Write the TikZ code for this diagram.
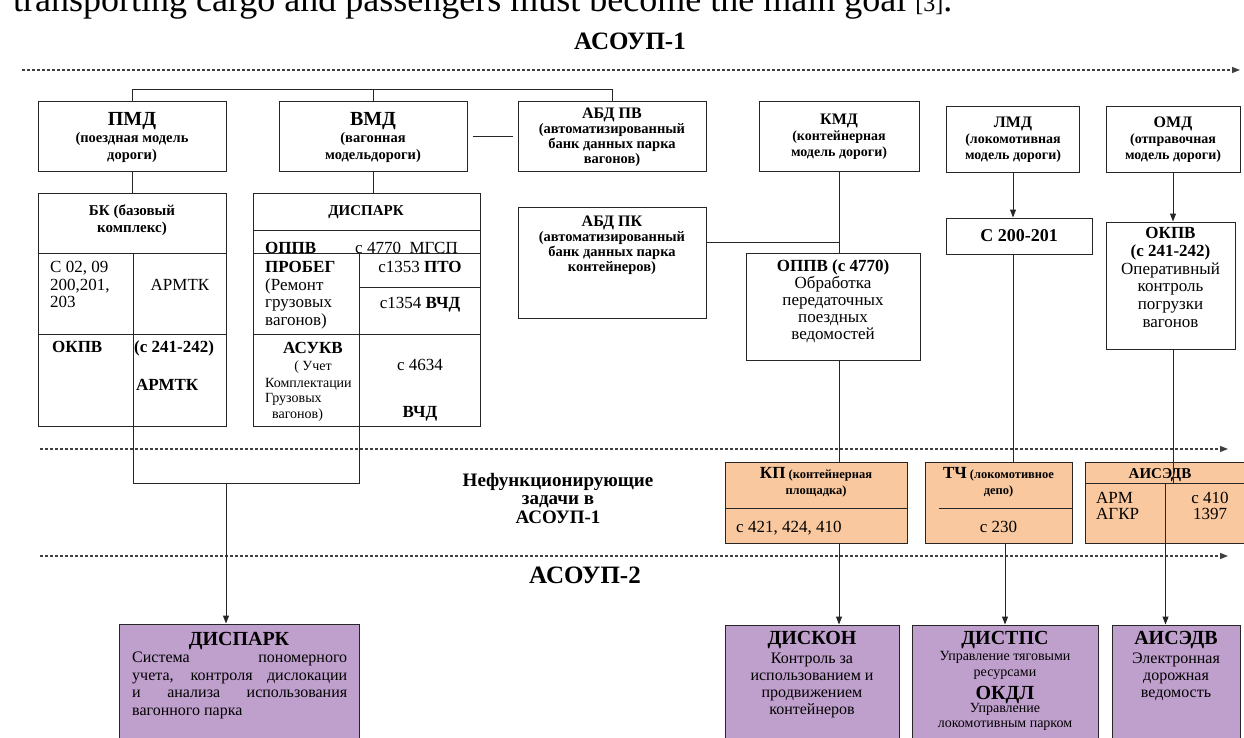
\documentclass[tikz,border=0pt]{standalone}
\usepackage{fontspec}
\setmainfont{Liberation Serif}
\usetikzlibrary{arrows.meta}
\definecolor{oldfill}{HTML}{F9C89E}
\definecolor{newfill}{HTML}{BF9FCC}
\newcommand\fsz[2]{\fontsize{#1}{#2}\selectfont}

\begin{document}
\begin{tikzpicture}[x=1pt,y=-1pt,
  box/.style={draw=black!85, line width=1pt, fill=white, inner sep=0pt, align=center},
  old/.style={box, fill=oldfill},
  new/.style={box, fill=newfill},
  ln/.style={draw=black!85, line width=1pt},
  arr/.style={ln, -{Triangle[length=8pt,width=6pt]}},
  sep/.style={line width=1.3pt, black!75, dash pattern=on 3pt off 2pt, -{Triangle[length=8pt,width=6pt]}},
  lt/.style={inner sep=0pt, anchor=base west},
  ct/.style={inner sep=0pt, anchor=base},
  blk/.style={inner sep=0pt, anchor=north, align=center}]
\useasboundingbox (0,0) rectangle (1244,738);
\clip (0,0) rectangle (1244,738);

\node[lt] (goal) at (13,12) {\fsz{36}{40}transporting cargo and passengers must become the main goal {\fsz{24}{26}[3]}.};

\node[ct] (asoup1) at (630,50) {\fsz{25}{28}\bfseries АСОУП-1};
\draw[sep] (22,70) -- (1240,70);
\draw[sep] (40,449) -- (1228,449);
\draw[sep] (40,556) -- (1228,556);
\node[blk, font=\fsz{19}{18.5}\bfseries] (nf) at (558,473) {Нефункционирующие\\задачи в\\АСОУП-1};
\node[ct] (asoup2) at (585,583) {\fsz{25}{28}\bfseries АСОУП-2};

\node[box, minimum width=188pt, minimum height=70pt, font=\fsz{14.5}{17}\bfseries] (pmd) at (132,137) {{\fsz{20}{20}ПМД}\\(поездная модель\\дороги)};
\node[box, minimum width=188pt, minimum height=70pt, font=\fsz{14.5}{17}\bfseries] (vmd) at (373,137) {{\fsz{20}{20}ВМД}\\(вагонная\\модельдороги)};
\node[box, minimum width=188pt, minimum height=70pt, font=\fsz{14.5}{15}\bfseries] (abdpv) at (612,137) {{\fsz{16}{16}АБД ПВ}\\(автоматизированный\\банк данных парка\\вагонов)};
\node[box, minimum width=160pt, minimum height=70pt, font=\fsz{14}{16}\bfseries] (kmd) at (839,137) {{\fsz{16}{16}КМД}\\(контейнерная\\модель дороги)};
\node[box, minimum width=133pt, minimum height=66pt, font=\fsz{14}{16}\bfseries] (lmd) at (1013,140) {{\fsz{16}{16}ЛМД}\\(локомотивная\\модель дороги)};
\node[box, minimum width=134pt, minimum height=66pt, font=\fsz{14}{16}\bfseries] (omd) at (1173,140) {{\fsz{16}{16}ОМД}\\(отправочная\\модель дороги)};

\node[box, minimum width=188pt, minimum height=232pt] (bk) at (132,310) {};
\node[box, minimum width=227pt, minimum height=232pt] (disp) at (366.5,310) {};
\node[box, minimum width=188pt, minimum height=111pt] (abdpk) at (612,262.5) {};
\node[box, minimum width=174pt, minimum height=107pt] (oppv) at (833,306.5) {};
\node[box, minimum width=146pt, minimum height=36pt, font=\fsz{18}{18}\bfseries] (c200) at (1019,236) {С 200-201};
\node[box, minimum width=129pt, minimum height=127pt] (okpv) at (1170.5,285.5) {};

\coordinate (bus) at (0,90);
\draw[ln] (pmd.north) -- (pmd.north |- bus) -- (abdpv.north |- bus) -- (abdpv.north);
\draw[ln] (vmd.north |- bus) -- (vmd.north);
\draw[ln, shorten <=5pt, shorten >=5pt] (vmd) -- (abdpv);
\draw[ln] (pmd.south) -- (bk.north);
\draw[ln] (vmd.south) -- (vmd.south |- disp.north);
\draw[ln] (kmd.south) -- (kmd.south |- oppv.north);
\coordinate (kjy) at (0,242);
\draw[ln] (abdpk.east |- kjy) -- (kmd.south |- kjy);
\draw[arr] (lmd.south) -- (lmd.south |- c200.north);
\draw[arr] (omd.south) -- (omd.south |- okpv.north);

\node[ct, font=\fsz{15}{15}\bfseries] (bkh1) at (132,215) {БК (базовый};
\node[ct, font=\fsz{15}{15}\bfseries] (bkh2) at (132,233) {комплекс)};
\draw[ln] (38,253) -- (226,253);
\draw[ln] (38,334) -- (226,334);
\node[lt, font=\fsz{17}{18}] (bkc) at (50,272) {С 02, 09};
\node[lt, font=\fsz{17}{18}] (bkc2) at (50,290) {200,201,};
\node[lt, font=\fsz{17}{18}] (bkc3) at (50,307) {203};
\node[ct, font=\fsz{17}{18}] (bkarm) at (180,290) {АРМТК};
\node[lt, font=\fsz{17}{18}\bfseries] (bkok) at (52,352) {ОКПВ};
\node[lt, font=\fsz{17}{18}\bfseries] (bkokc) at (134,352) {(с 241-242)};
\node[lt, font=\fsz{17}{18}\bfseries] (bkarm2) at (136,390) {АРМТК};

\node[ct, font=\fsz{15}{15}\bfseries] (disph) at (366,215) {ДИСПАРК};
\draw[ln] (253,230) -- (480,230);
\node[lt, font=\fsz{17}{18}\bfseries] (dop) at (265,253) {ОППВ};
\node[lt, font=\fsz{17}{18}] (dopc) at (355,253) {с 4770\enspace МГСП};
\draw[ln] (253,253) -- (480,253);
\draw[ln] (359,287) -- (480,287);
\draw[ln] (253,334) -- (480,334);
\node[lt, font=\fsz{17}{18}\bfseries] (dpr) at (265,272) {ПРОБЕГ};
\node[lt, font=\fsz{17}{18}] (dpr2) at (265,290) {(Ремонт};
\node[lt, font=\fsz{17}{18}] (dpr3) at (265,307) {грузовых};
\node[lt, font=\fsz{17}{18}] (dpr4) at (265,325) {вагонов)};
\node[ct, font=\fsz{17}{18}] (dpto) at (420,272) {с1353 \textbf{ПТО}};
\node[ct, font=\fsz{17}{18}] (dvchd) at (420,308) {с1354 \textbf{ВЧД}};
\node[ct, font=\fsz{17}{18}\bfseries] (das) at (313,353) {АСУКВ};
\node[ct, font=\fsz{14}{15}] (das2) at (313,370) {( Учет};
\node[lt, font=\fsz{14}{15}] (das3) at (265,387) {Комплектации};
\node[lt, font=\fsz{14}{15}] (das4) at (265,402) {Грузовых};
\node[lt, font=\fsz{14}{15}] (das5) at (272,418) {вагонов)};
\node[ct, font=\fsz{17}{18}] (dc46) at (420,370) {с 4634};
\node[ct, font=\fsz{17}{18}\bfseries] (dvchd2) at (420,417) {ВЧД};

\node[blk, font=\fsz{14.5}{15}\bfseries] (abdpkt) at (612,216) {{\fsz{16}{16}АБД ПК}\\(автоматизированный\\банк данных парка\\контейнеров)};
\node[blk, font=\fsz{17}{17}] (oppvt) at (833,260) {\textbf{ОППВ (с 4770)}\\Обработка\\передаточных\\поездных\\ведомостей};
\node[blk, font=\fsz{17}{17.8}] (okpvt) at (1170.5,227) {\textbf{ОКПВ}\\\textbf{(с 241-242)}\\Оперативный\\контроль\\погрузки\\вагонов};

\node[old, minimum width=182pt, minimum height=81pt] (kp) at (816,502.5) {};
\node[old, minimum width=147pt, minimum height=81pt] (tch) at (998.5,502.5) {};
\node[old, minimum width=161pt, minimum height=81pt] (aisk) at (1165.5,502.5) {};
\draw[ln] (kmd.south |- oppv.south) -- (kmd.south |- kp.north);
\draw[ln] (lmd.south |- c200.south) -- (lmd.south |- tch.north);
\coordinate (ahy) at (0,483);
\draw[ln] (725,508) -- (907,508);
\draw[ln] (939,508) -- (1072,508);
\draw[ln] (1085,483) -- (1246,483);
\draw[ln] (1165,483) -- (1165,543);
\node[blk, font=\fsz{12.5}{16}\bfseries] (kpt) at (816,467) {{\fsz{17}{17}КП} (контейнерная\\площадка)};
\node[blk, font=\fsz{12.5}{16}\bfseries] (tcht) at (998.5,467) {{\fsz{17}{17}ТЧ} (локомотивное\\депо)};
\node[lt, font=\fsz{17}{18}] (kpc) at (736,532) {с 421, 424, 410};
\node[ct, font=\fsz{17}{18}] (tchc) at (998.5,532) {с 230};
\node[ct, font=\fsz{15}{15}\bfseries] (aiskh) at (1160,478) {АИСЭДВ};
\draw[ln] (omd.south |- okpv.south) -- (omd.south |- ahy);
\node[lt, font=\fsz{17}{18}] (arm) at (1096,503) {АРМ};
\node[lt, font=\fsz{17}{18}] (agkr) at (1096,519) {АГКР};
\node[ct, font=\fsz{17}{18}] (c410) at (1210,503) {с 410};
\node[ct, font=\fsz{17}{18}] (c1397) at (1210,519) {1397};

\node[new, minimum width=240pt, minimum height=140pt] (dispark) at (239,694) {};
\node[new, minimum width=174pt, minimum height=140pt] (diskon) at (812,695) {};
\node[new, minimum width=186pt, minimum height=140pt] (distps) at (1005,695) {};
\node[new, minimum width=128pt, minimum height=140pt] (aisp) at (1176,695) {};

\coordinate (brk) at (226,483);
\draw[ln] (133,253) -- (133,483) -- (359,483) -- (359,253);
\draw[arr] (brk) -- (brk |- dispark.north);
\draw[arr] (kmd.south |- kp.south) -- (kmd.south |- diskon.north);
\draw[arr] (distps.north |- tch.south) -- (distps.north);
\draw[arr] (aisk.south) -- (aisk.south |- aisp.north);

\node[ct, font=\fsz{20}{20}\bfseries] (dsh) at (239,645) {ДИСПАРК};
\node[lt, font=\fsz{16}{17}] (ds1) at (132,662) {\makebox[215pt][s]{Система пономерного}};
\node[lt, font=\fsz{16}{17}] (ds2) at (132,680) {\makebox[215pt][s]{учета, контроля дислокации}};
\node[lt, font=\fsz{16}{17}] (ds3) at (132,697) {\makebox[215pt][s]{и анализа использования}};
\node[lt, font=\fsz{16}{17}] (ds4) at (132,715) {вагонного парка};
\node[ct, font=\fsz{20}{20}\bfseries] (dkh) at (812,644) {ДИСКОН};
\node[blk, font=\fsz{16}{17}] (dkt) at (812,653) {Контроль за\\использованием и\\продвижением\\контейнеров};
\node[ct, font=\fsz{20}{20}\bfseries] (dth) at (1005,644) {ДИСТПС};
\node[blk, font=\fsz{14}{16}] (dtt) at (1005,651) {Управление тяговыми\\ресурсами};
\node[ct, font=\fsz{20}{20}\bfseries] (okdl) at (1005,699) {ОКДЛ};
\node[blk, font=\fsz{14}{15}] (okdlt) at (1005,703) {Управление\\локомотивным парком};
\node[ct, font=\fsz{20}{20}\bfseries] (aih) at (1176,644) {АИСЭДВ};
\node[blk, font=\fsz{16}{17}] (ait) at (1176,653) {Электронная\\дорожная\\ведомость};
\end{tikzpicture}
\end{document}
